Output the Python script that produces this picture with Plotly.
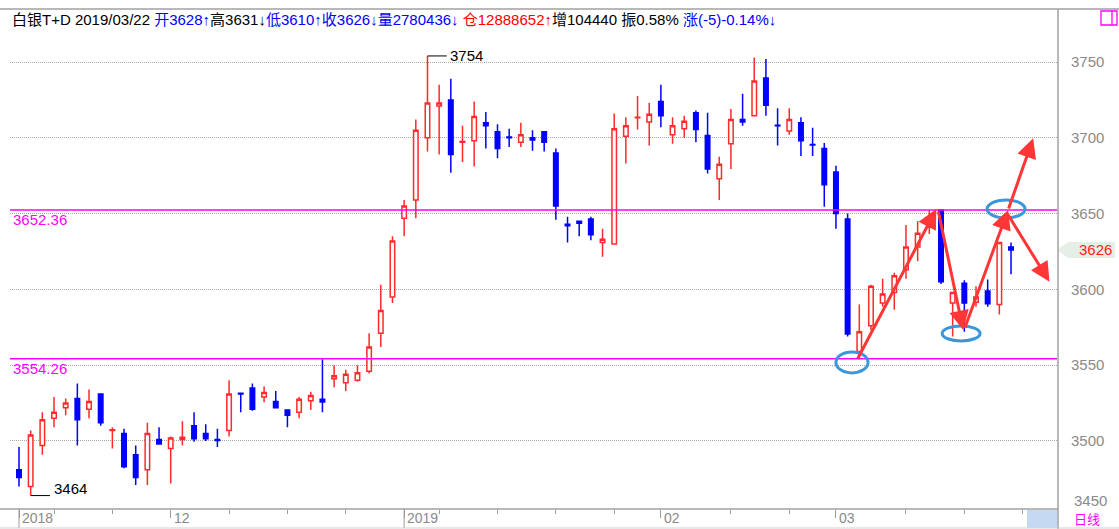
import datetime
import plotly.graph_objects as go

# ---------------- data ----------------
dates = [
    "2018-11-14", "2018-11-15", "2018-11-16", "2018-11-19", "2018-11-20", "2018-11-21", "2018-11-22",
    "2018-11-23", "2018-11-26", "2018-11-27", "2018-11-28", "2018-11-29", "2018-11-30",
    "2018-12-03", "2018-12-04", "2018-12-05", "2018-12-06", "2018-12-07",
    "2018-12-10", "2018-12-11", "2018-12-12", "2018-12-13", "2018-12-14",
    "2018-12-17", "2018-12-18", "2018-12-19", "2018-12-20", "2018-12-21",
    "2018-12-24", "2018-12-25", "2018-12-26", "2018-12-27", "2018-12-28",
    "2019-01-02", "2019-01-03", "2019-01-04",
    "2019-01-07", "2019-01-08", "2019-01-09", "2019-01-10", "2019-01-11",
    "2019-01-14", "2019-01-15", "2019-01-16", "2019-01-17", "2019-01-18",
    "2019-01-21", "2019-01-22", "2019-01-23", "2019-01-24", "2019-01-25",
    "2019-01-28", "2019-01-29", "2019-01-30", "2019-01-31",
    "2019-02-01",
    "2019-02-11", "2019-02-12", "2019-02-13", "2019-02-14", "2019-02-15",
    "2019-02-18", "2019-02-19", "2019-02-20", "2019-02-21", "2019-02-22",
    "2019-02-25", "2019-02-26", "2019-02-27", "2019-02-28",
    "2019-03-01",
    "2019-03-04", "2019-03-05", "2019-03-06", "2019-03-07", "2019-03-08",
    "2019-03-11", "2019-03-12", "2019-03-13", "2019-03-14", "2019-03-15",
    "2019-03-18", "2019-03-19", "2019-03-20", "2019-03-21", "2019-03-22",
]

opens = [3481, 3470, 3497, 3515, 3522, 3528, 3521, 3531, 3507, 3505, 3491, 3481, 3501,
         3495, 3501, 3510, 3505, 3501, 3507, 3531.5, 3535, 3529, 3526, 3520.4, 3519, 3526.5,
         3527.5, 3541, 3538.5, 3540, 3546, 3571, 3595,
         3647, 3659, 3700, 3721, 3725, 3697, 3698, 3710, 3704, 3700.5, 3697, 3700, 3704,
         3690, 3643, 3645, 3646.5, 3631, 3630,
         3701, 3713.3, 3710.5, 3724, 3702, 3706, 3716.5, 3701.5, 3673, 3696, 3712, 3714.5,
         3739.5, 3708.3, 3704.5, 3710, 3695.5, 3693, 3677.5,
         3646.5, 3559, 3576, 3591, 3598, 3613, 3628, 3641, 3652.36, 3591, 3604, 3591.5,
         3599, 3590, 3628]
highs = [3496, 3507, 3519, 3529, 3528, 3538, 3534, 3531.5, 3509, 3508, 3497, 3512, 3509,
         3503, 3513, 3519, 3511, 3508, 3540, 3532, 3538, 3536, 3533, 3520.6, 3529, 3532.5,
         3554, 3550, 3547, 3550, 3571, 3603, 3635,
         3659, 3712, 3754, 3735, 3739, 3708, 3724, 3717, 3709, 3706, 3710, 3705, 3704.5,
         3693, 3648, 3645.1, 3648, 3640, 3716,
         3713.5, 3727.5, 3723, 3735, 3713.5, 3714.5, 3718, 3716.5, 3687.5, 3719, 3729, 3753,
         3752, 3719.5, 3719.5, 3713.5, 3706.7, 3696.5, 3681.5,
         3650, 3590, 3603, 3607, 3611, 3642.5, 3645, 3652.4, 3652.36, 3598, 3606, 3602,
         3606.5, 3631.5, 3631]
lows = [3470, 3464, 3491, 3509, 3517, 3497, 3515, 3510, 3495, 3482, 3471, 3471, 3497.5,
        3472, 3497, 3499.5, 3500, 3496, 3503, 3519, 3520, 3525.5, 3521.5, 3509, 3515, 3520.5,
        3519, 3535.5, 3533, 3539, 3544.5, 3562, 3591,
        3635, 3647, 3691, 3689, 3677, 3684, 3681, 3693, 3686.5, 3694, 3694, 3691.5, 3691,
        3646, 3631, 3635, 3632.5, 3621.5, 3629.5,
        3683, 3705.5, 3695, 3707, 3696, 3700, 3697, 3676.5, 3659, 3679.5, 3708, 3714,
        3714.5, 3695, 3702, 3688, 3688, 3654.5, 3640,
        3569, 3554, 3573, 3588.5, 3586.5, 3607, 3618.5, 3636.5, 3603.5, 3569, 3572, 3588.5,
        3588.5, 3583.5, 3610]
closes = [3476, 3504, 3514, 3519, 3525, 3514, 3526, 3512, 3507.4, 3483, 3476, 3505, 3498,
          3502, 3502.5, 3501.5, 3501.5, 3500.3, 3531, 3531, 3521, 3532, 3522, 3517, 3527.5, 3530,
          3525.7, 3543, 3544, 3545, 3562, 3586, 3632,
          3655, 3705, 3723, 3723, 3689, 3697.5, 3714, 3708, 3693, 3700, 3702, 3698.5, 3697,
          3655, 3642, 3643.6, 3636, 3633, 3706,
          3708, 3713.5, 3715.5, 3714.5, 3708, 3711, 3705.5, 3679.5, 3682.5, 3712, 3710.5, 3737.5,
          3721.5, 3708, 3712, 3698, 3695.2, 3669, 3650,
          3570.5, 3572, 3602, 3597, 3609, 3628, 3637, 3642.5, 3605, 3598, 3591, 3595,
          3590.5, 3631, 3626]

price_ticks = [3500, 3550, 3600, 3650, 3700, 3750]
extra_tick = 3450
level_lines = [3652.36, 3554.26]

header_parts = [
    ("白银T+D 2019/03/22 ", "#000000"),
    ("开3628↑", "#0000ff"),
    ("高3631↓", "#000000"),
    ("低3610↑", "#0000ff"),
    ("收3626↓", "#0000ff"),
    ("量2780436↓ ", "#0000ff"),
    ("仓12888652↑", "#ff0000"),
    ("增104440 振0.58% ", "#000000"),
    ("涨(-5)-0.14%↓", "#0000ff"),
]

# trend annotations (index, price): tail -> head
arrows = [
    ((71.8, 3553.4), (78.6, 3653.0)),
    ((78.75, 3652.4), (80.9, 3573.2)),
    ((81.0, 3573.7), (84.75, 3652.4)),
    ((84.75, 3652.4), (86.9, 3699.7)),
    ((84.6, 3651.0), (88.3, 3605.0)),
]
ellipses = [
    (70.0, 72.75, 3544.9, 3558.7),
    (79.1, 82.35, 3566.0, 3575.9),
    (82.95, 86.2, 3647.1, 3659.0),
]

# ---------------- geometry ----------------
W, H = 1119, 529
X0, X1 = 10, 1057
Y0, Y1 = 28, 509
XR = [-0.771, 88.94]
YR = [3455.14, 3772.43]


def px(x):
    return (x - X0) / (X1 - X0)


def py(y):
    return (Y1 - y) / (Y1 - Y0)


def pprice(p):
    return (p - YR[0]) / (YR[1] - YR[0])


idx = list(range(len(dates)))
dt = [datetime.date.fromisoformat(d) for d in dates]
month_idx = [0] + [i for i in range(1, len(dt)) if dt[i].month != dt[i - 1].month]
week_idx = [i for i in range(1, len(dt))
            if dt[i].weekday() < dt[i - 1].weekday() and all(abs(i - m) > 2 for m in month_idx)]
week_idx.append(len(dt))
month_labels = []
for i in month_idx:
    if i == 0 or dt[i].month == 1:
        month_labels.append(str(dt[i].year))
    else:
        month_labels.append(f"{dt[i].month:02d}")

RED = "#ff2a2a"
BLUE = "#0000ff"
GRAY = "#8a8a8a"
MAG = "#ff00ff"
FONT = "Arial, 'Liberation Sans', 'Noto Sans CJK SC', 'DejaVu Sans'"

fig = go.Figure()
fig.add_trace(go.Candlestick(
    x=idx, open=opens, high=highs, low=lows, close=closes,
    increasing=dict(line=dict(color=RED, width=1.5), fillcolor="#ffffff"),
    decreasing=dict(line=dict(color=BLUE, width=1.5), fillcolor=BLUE),
    hoverinfo="skip", showlegend=False,
))

shapes = []
annotations = []

# level lines + labels
for lv in level_lines:
    shapes.append(dict(type="line", xref="paper", yref="y", x0=0, x1=1, y0=lv, y1=lv,
                       line=dict(color=MAG, width=1.3), layer="above"))
    annotations.append(dict(xref="paper", yref="y", x=px(11), y=lv, xanchor="left", yanchor="top",
                            text=f"{lv:.2f}", showarrow=False, yshift=1,
                            font=dict(family=FONT, size=15, color=MAG)))

# max / min markers
imax = max(idx, key=lambda i: highs[i])
imin = min(idx, key=lambda i: lows[i])
shapes.append(dict(type="line", xref="x", yref="y", x0=imax, x1=imax + 1.65,
                   y0=highs[imax], y1=highs[imax], line=dict(color="#000000", width=1)))
annotations.append(dict(xref="x", yref="y", x=imax + 1.8, y=highs[imax], xanchor="left", yanchor="middle",
                        text=f"{highs[imax]:.0f}", showarrow=False,
                        font=dict(family=FONT, size=15, color="#000000")))
shapes.append(dict(type="line", xref="x", yref="y", x0=imin, x1=imin + 1.65,
                   y0=lows[imin], y1=lows[imin], line=dict(color="#000000", width=1)))
annotations.append(dict(xref="x", yref="y", x=imin + 1.8, y=lows[imin], xanchor="left", yanchor="bottom",
                        text=f"{lows[imin]:.0f}", showarrow=False, yshift=-3,
                        font=dict(family=FONT, size=15, color="#000000")))

# ellipses
for (xa, xb, ya, yb) in ellipses:
    shapes.append(dict(type="circle", xref="x", yref="y", x0=xa, x1=xb, y0=ya, y1=yb,
                       line=dict(color="#3b97dc", width=3), layer="above"))

# arrows
for (tx, ty), (hx, hy) in arrows:
    annotations.append(dict(xref="x", yref="y", axref="x", ayref="y", x=hx, y=hy, ax=tx, ay=ty,
                            text="", showarrow=True, arrowhead=2, arrowsize=1.3, arrowwidth=3,
                            arrowcolor="#ff3636", standoff=0, startstandoff=0))

# header
header = "".join(f'<span style="color:{c}">{t}</span>' for t, c in header_parts)
annotations.append(dict(xref="paper", yref="paper", x=px(10), y=py(19), xanchor="left", yanchor="middle",
                        text=header, showarrow=False, font=dict(family=FONT, size=15, color="#000000")))

# date labels
for i, lab in zip(month_idx, month_labels):
    annotations.append(dict(xref="x", yref="paper", x=i, y=py(518), xanchor="left", yanchor="middle",
                            xshift=1, text=lab, showarrow=False,
                            font=dict(family=FONT, size=14, color=GRAY)))
    if lab.isdigit() and len(lab) == 4:
        shapes.append(dict(type="line", xref="x", yref="paper", x0=i, x1=i, y0=py(509), y1=py(528),
                           line=dict(color="#9a9a9a", width=1)))

# 3450 label (clamped)
annotations.append(dict(xref="paper", yref="paper", x=px(1072), y=py(500), xanchor="left", yanchor="middle",
                        text=str(extra_tick), showarrow=False, font=dict(family=FONT, size=15, color=GRAY)))

# last price tag
lp = closes[-1]
half = 8 / (Y1 - Y0)
yc = pprice(lp)
shapes.append(dict(type="path", xref="paper", yref="paper",
                   path=(f"M {px(1057)},{yc} L {px(1068)},{yc + half} L {px(1115)},{yc + half} "
                         f"L {px(1115)},{yc - half} L {px(1068)},{yc - half} Z"),
                   fillcolor="#e6efe6", line=dict(width=0)))
annotations.append(dict(xref="paper", yref="paper", x=px(1114), y=yc, xanchor="right", yanchor="middle",
                        text=f"{lp:.0f}", showarrow=False, font=dict(family=FONT, size=15, color="#ff1a1a")))

# frame
shapes += [
    dict(type="line", xref="paper", yref="paper", x0=px(0), x1=px(1119), y0=py(9), y1=py(9),
         line=dict(color="#a0a0a0", width=1.5)),
    dict(type="line", xref="paper", yref="paper", x0=px(1058), x1=px(1058), y0=py(9), y1=py(529),
         line=dict(color="#a0a0a0", width=1.5)),
    dict(type="line", xref="paper", yref="paper", x0=px(0), x1=px(1058), y0=py(509), y1=py(509),
         line=dict(color="#a0a0a0", width=1.5)),
    dict(type="line", xref="paper", yref="paper", x0=px(0), x1=px(1119), y0=py(528), y1=py(528),
         line=dict(color="#d0d0d0", width=1)),
    dict(type="rect", xref="paper", yref="paper", x0=px(1027), x1=px(1057), y0=py(528), y1=py(510),
         fillcolor="#c4d9f1", line=dict(width=0)),
    dict(type="rect", xref="paper", yref="paper", x0=px(1101), x1=px(1117), y0=py(25), y1=py(11),
         line=dict(color=MAG, width=1.3)),
    dict(type="line", xref="paper", yref="paper", x0=px(1112), x1=px(1112), y0=py(25), y1=py(11),
         line=dict(color=MAG, width=1.3)),
]
annotations.append(dict(xref="paper", yref="paper", x=px(1072), y=py(518), xanchor="left", yanchor="middle",
                        text="日线", showarrow=False,
                        font=dict(family="'Noto Sans CJK SC'", size=13, color=MAG)))

fig.update_layout(
    width=W, height=H,
    margin=dict(l=X0, r=W - X1, t=Y0, b=H - Y1, pad=0),
    paper_bgcolor="#ffffff", plot_bgcolor="#ffffff",
    showlegend=False, hovermode=False, boxgap=0.45,
    shapes=shapes, annotations=annotations,
    xaxis=dict(range=XR, rangeslider=dict(visible=False), showgrid=False, zeroline=False,
               showline=False, tickmode="array", tickvals=month_idx, ticktext=[""] * len(month_idx),
               ticks="outside", ticklen=8, tickcolor="#9a9a9a", tickwidth=1,
               minor=dict(tickmode="array", tickvals=week_idx, ticks="outside", ticklen=4,
                          tickcolor="#9a9a9a", tickwidth=1, showgrid=False)),
    yaxis=dict(range=YR, side="right", showgrid=True, gridcolor="#a8a8a8", griddash="1px,1px",
               gridwidth=1, zeroline=False, showline=False, tickmode="array", tickvals=price_ticks,
               ticktext=[str(t) for t in price_ticks], ticks="", ticklabelstandoff=13,
               tickfont=dict(family=FONT, size=15, color=GRAY)),
    font=dict(family=FONT),
)

fig.write_html("out.html", config=dict(displayModeBar=False, staticPlot=True),
               post_script="document.body.style.margin='0';document.body.style.overflow='hidden';")
